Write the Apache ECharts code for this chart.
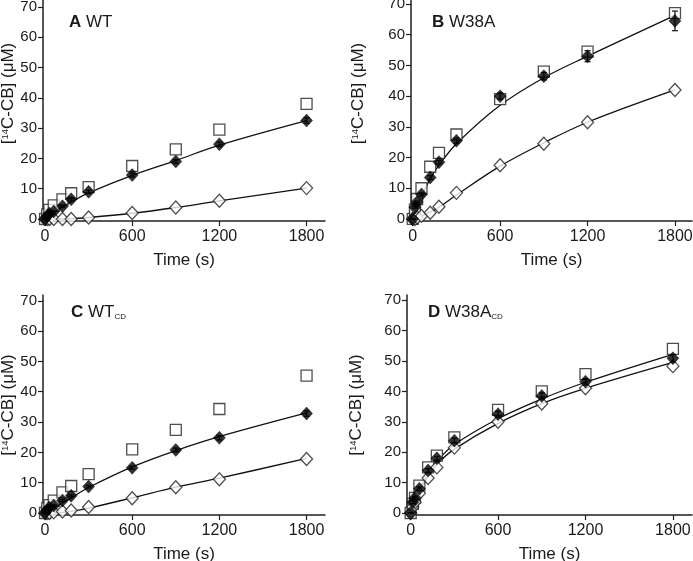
<!DOCTYPE html>
<html><head><meta charset="utf-8">
<script src="https://cdn.jsdelivr.net/npm/echarts@6/dist/echarts.min.js"></script>
<style>html,body{margin:0;padding:0;background:#fff}#c{width:693px;height:561px}</style>
</head><body><div id="c"></div>
<script>
// Time points (s)
const T = [0, 15, 30, 60, 120, 180, 300, 600, 900, 1200, 1800];
const fitT = [0, 30, 60, 120, 180, 300, 600, 900, 1200, 1800];
const xTicks = [0, 600, 1200, 1800];
const yTicks = [0, 10, 20, 30, 40, 50, 60, 70];

// Panel A WT
const aSq   = [0, 1.5, 3, 4.5, 6.5, 8.5, 10.5, 17.5, 23, 29.5, 38];
const aFill = [0, 1, 1.8, 2.5, 4.2, 6.5, 9, 14.5, 19, 24.7, 32.5];
const aOpen = [0, 0, 0, 0, 0, 0, 0.5, 2, 3.8, 6, 10.2];
const aErr  = [0, 0, 0, 0, 0.3, 0.6, 0.5, 0.6, 0.6, 0.7, 0.9];
const aFillFit = [0, 1.2, 2.2, 4, 5.6, 8.6, 14.4, 19.3, 24.4, 32.5];
const aOpenFit = [0, 0, 0, 0.05, 0.15, 0.5, 1.9, 3.8, 6.0, 10.2];

// Panel B W38A
const bSq   = [0, 3, 6.5, 10, 17, 21.5, 27.5, 39, 48, 54.5, 67];
const bFill = [0, 3.8, 5.5, 8, 13.5, 18.5, 25.5, 40, 46.5, 53, 64.5];
const bOpen = [0, 0, 0.5, 1, 2, 4, 8.5, 17.5, 24.5, 31.5, 42];
const bErr  = [0, 0.3, 0.3, 0.5, 0.6, 0.6, 0.8, 1, 1.2, 1.8, 3.2];
const bFillFit = [0, 4, 7.5, 13, 17.5, 24.5, 37, 46, 53, 66.3];
const bOpenFit = [0, 0.4, 1, 2.3, 3.8, 7.8, 17.2, 24.8, 31.5, 42];

// Panel C WT_CD
const cSq   = [0, 1.5, 2.6, 4.1, 6.8, 8.9, 12.8, 21, 27.4, 34.3, 45.3];
const cFill = [0, 1, 1.8, 2.5, 4.1, 5.7, 8.7, 14.9, 20.8, 24.8, 32.8];
const cOpen = [0, 0, 0, 0.2, 0.5, 0.8, 2, 4.85, 8.5, 11.1, 17.8];
const cErr  = [0, 0, 0, 0.2, 0.3, 0.3, 0.4, 0.5, 0.6, 0.7, 0.9];
const cFillFit = [0, 0.7, 1.6, 3.3, 5, 8.4, 15.2, 20.6, 25.2, 33];
const cOpenFit = [0, 0, 0.05, 0.2, 0.5, 1.6, 5, 8.5, 11.5, 18];

// Panel D W38A_CD
const dSq   = [0, 3, 5, 9, 15, 18.9, 24.9, 33.9, 40, 45.7, 54];
const dFill = [0, 3.5, 5, 8, 14, 18, 23.8, 32.5, 38.5, 43.2, 50.9];
const dOpen = [0, 2, 3.5, 6.5, 11.5, 15, 21.5, 30, 36, 41, 48.3];
const dErr  = [0, 0.5, 0.5, 0.6, 0.6, 0.6, 0.8, 1, 1, 1, 1.2];
const dFillFit = [0, 4, 7.5, 13, 17, 22.5, 31, 37.5, 43, 52.2];
const dOpenFit = [0, 3.8, 7, 12, 16, 21, 29.5, 36, 41, 49.5];

const panels = [
  {sq:aSq, fill:aFill, open:aOpen, err:aErr, fillFit:aFillFit, openFit:aOpenFit},
  {sq:bSq, fill:bFill, open:bOpen, err:bErr, fillFit:bFillFit, openFit:bOpenFit},
  {sq:cSq, fill:cFill, open:cOpen, err:cErr, fillFit:cFillFit, openFit:cOpenFit},
  {sq:dSq, fill:dFill, open:dOpen, err:dErr, fillFit:dFillFit, openFit:dOpenFit}
];

const FONT = 'Liberation Sans, Arial, sans-serif';
const TXT = '#1a1a1a';
const AX = '#231f20';

const grids = [
  {left:43, top:0, width:282, height:221, outerBoundsMode:'none', containLabel:false},
  {left:411, top:0, width:281, height:221, outerBoundsMode:'none', containLabel:false},
  {left:43, top:295, width:282, height:220, outerBoundsMode:'none', containLabel:false},
  {left:407, top:295, width:285, height:220, outerBoundsMode:'none', containLabel:false}
];
const xr = [[-14,1927],[-12,1917],[-14,1927],[-25,1931]];
const yr = [[-0.66,72.3],[-0.66,71.3],[-0.66,71.9],[-0.66,71.7]];
const namePad = [[0,0,0,34],[0,0,0,34],[0,0,0,0],[0,0,0,0]];
const nameGaps = [26, 44, 26, 42];

const xAxis = [], yAxis = [], series = [];
grids.forEach((g,i)=>{
  xAxis.push({type:'value', gridIndex:i, min:xr[i][0], max:xr[i][1],
    name:'Time (s)', nameLocation:'middle', nameGap:31, nameMoveOverlap:false,
    nameTextStyle:{fontFamily:FONT, fontSize:17, color:TXT},
    axisLine:{show:true, onZero:false, lineStyle:{color:AX, width:1.5}},
    axisTick:{show:true, length:5, customValues:xTicks, lineStyle:{color:AX, width:1.2}},
    axisLabel:{customValues:xTicks, formatter:(v)=>String(v), fontFamily:FONT, fontSize:16, color:TXT, margin:8},
    splitLine:{show:false}});
  yAxis.push({type:'value', gridIndex:i, min:yr[i][0], max:yr[i][1],
    name:'[{sup|14}C-CB] (\u03bcM)', nameLocation:'middle', nameGap:nameGaps[i], nameMoveOverlap:false,
    nameTextStyle:{fontFamily:FONT, fontSize:17, color:TXT, padding:namePad[i],
      rich:{sup:{fontSize:9.5, fontFamily:FONT, color:TXT, verticalAlign:'top', padding:[0,0,6,0]}}},
    axisLine:{show:true, onZero:false, lineStyle:{color:AX, width:1.5}},
    axisTick:{show:true, length:5, customValues:yTicks, lineStyle:{color:AX, width:1.2}},
    axisLabel:{customValues:yTicks, formatter:(v)=>String(v), fontFamily:FONT, fontSize:15, color:TXT, margin:6},
    splitLine:{show:false}});
  const p = panels[i];
  const pair = (xs, ys) => xs.map((t,k)=>[t, ys[k]]);
  series.push({type:'line', xAxisIndex:i, yAxisIndex:i, data:pair(fitT,p.openFit), smooth:0.35,
    showSymbol:false, lineStyle:{color:'#111', width:1.3}, silent:true, z:2});
  series.push({type:'line', xAxisIndex:i, yAxisIndex:i, data:pair(fitT,p.fillFit), smooth:0.35,
    showSymbol:false, lineStyle:{color:'#111', width:1.3}, silent:true, z:2});
  series.push({type:'scatter', xAxisIndex:i, yAxisIndex:i, data:pair(T,p.sq), symbol:'rect', symbolSize:11,
    itemStyle:{color:'#fff', borderColor:'#222', borderWidth:1.3}, z:3});
  series.push({type:'scatter', xAxisIndex:i, yAxisIndex:i, data:pair(T,p.open), symbol:'diamond', symbolSize:[12,13],
    itemStyle:{color:'#fff', borderColor:'#222', borderWidth:1.3}, z:4});
  series.push({type:'custom', xAxisIndex:i, yAxisIndex:i, z:5,
    data:T.map((t,k)=>[t, p.fill[k]-p.err[k], p.fill[k]+p.err[k]]),
    renderItem:(params, api)=>{
      const lo = api.coord([api.value(0), api.value(1)]);
      const hi = api.coord([api.value(0), api.value(2)]);
      const w = 3;
      return {type:'group', children:[
        {type:'line', shape:{x1:lo[0],y1:lo[1],x2:hi[0],y2:hi[1]}, style:{stroke:'#111', lineWidth:1.2}},
        {type:'line', shape:{x1:lo[0]-w,y1:lo[1],x2:lo[0]+w,y2:lo[1]}, style:{stroke:'#111', lineWidth:1.2}},
        {type:'line', shape:{x1:hi[0]-w,y1:hi[1],x2:hi[0]+w,y2:hi[1]}, style:{stroke:'#111', lineWidth:1.2}}
      ]};
    }});
  series.push({type:'scatter', xAxisIndex:i, yAxisIndex:i, data:pair(T,p.fill), symbol:'diamond', symbolSize:[12,13],
    itemStyle:{color:'#000', borderColor:'#000', borderWidth:0.5}, z:6});
});

const labelRich = {
  b:{fontFamily:FONT, fontSize:17, fontWeight:'bold', fill:TXT},
  n:{fontFamily:FONT, fontSize:17, fill:TXT},
  s:{fontFamily:FONT, fontSize:8, fill:TXT, padding:[9,0,0,0]}
};
const mkLabel = (x,y,text)=>({type:'text', left:x, top:y, z:10,
  style:{text:text, rich:labelRich, fontFamily:FONT, fontSize:17, fill:TXT}});

const option = {
  animation:false,
  grid:grids,
  xAxis:xAxis, yAxis:yAxis, series:series,
  graphic:[
    mkLabel(69, 14, '{b|A} {n|WT}'),
    mkLabel(432, 14, '{b|B} {n|W38A}'),
    mkLabel(71, 304, '{b|C} {n|WT}{s|CD}'),
    mkLabel(428, 304, '{b|D} {n|W38A}{s|CD}')
  ]
};
const chart = echarts.init(document.getElementById('c'), null, {renderer:'canvas'});
chart.setOption(option);
</script></body></html>
